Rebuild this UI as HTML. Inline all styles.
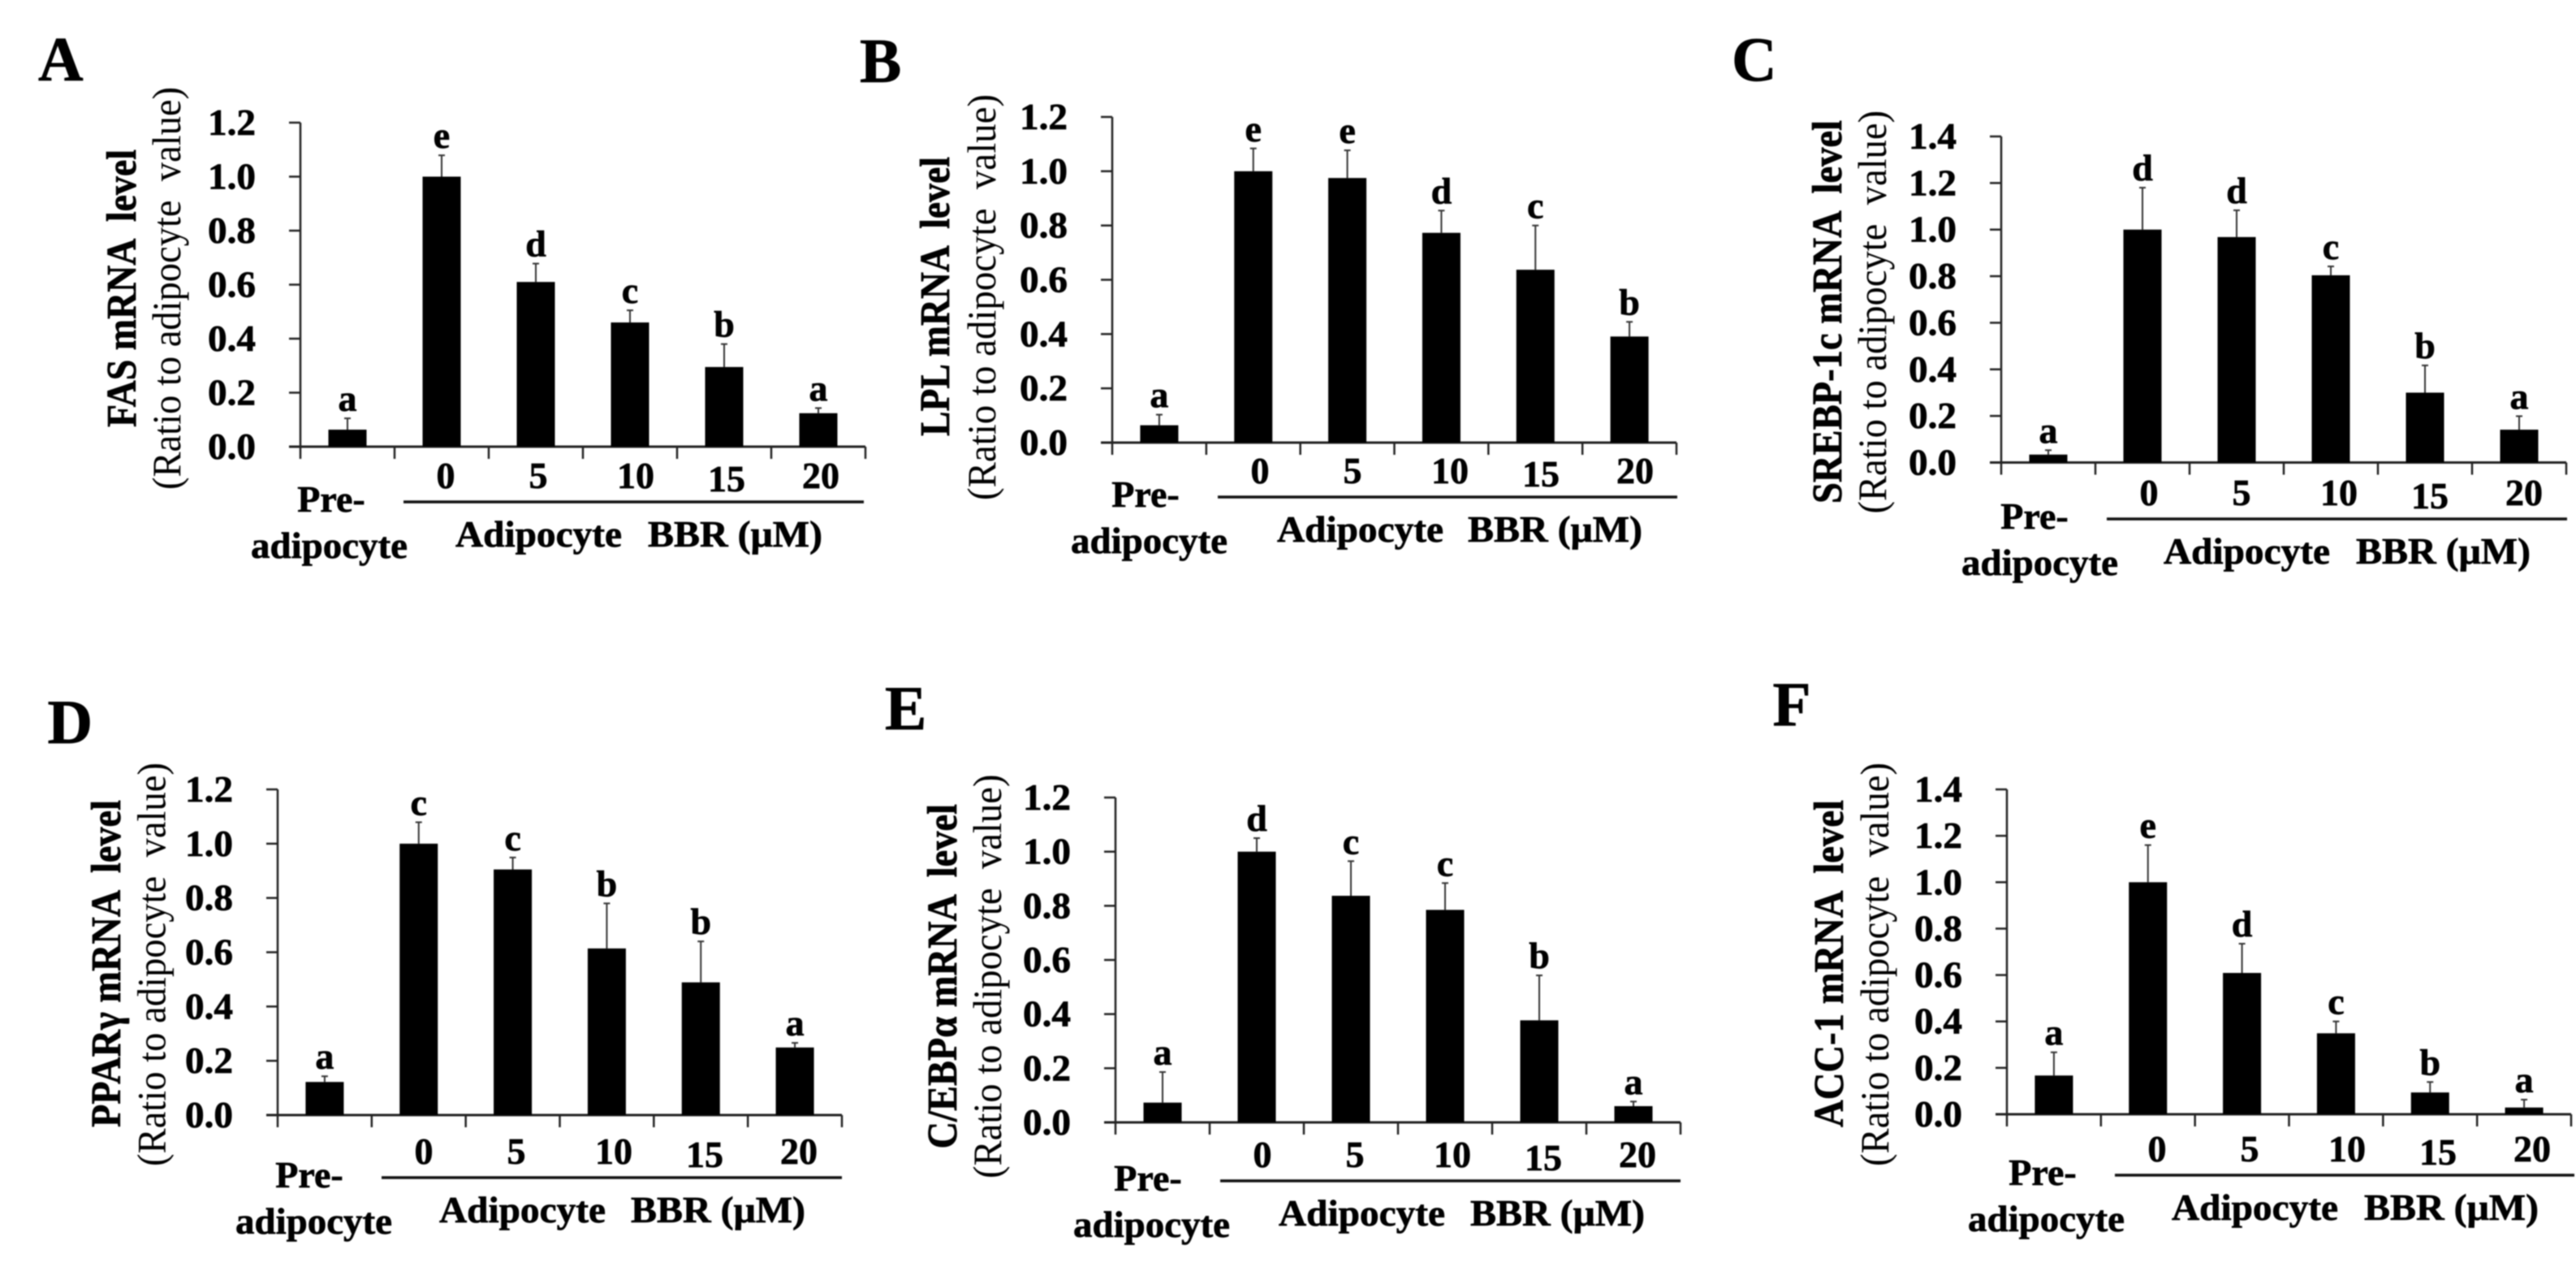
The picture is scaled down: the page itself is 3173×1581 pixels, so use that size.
<!DOCTYPE html>
<html lang="en">
<head>
<meta charset="utf-8">
<title>mRNA levels in pre-adipocytes and BBR-treated adipocytes</title>
<style>
html,body{margin:0;padding:0;background:#fff;width:3173px;height:1581px;overflow:hidden}
svg{display:block;filter:blur(0.7px)}
text{font-family:"Liberation Serif","DejaVu Serif",serif;fill:#000;white-space:pre}
text[font-weight="bold"]{stroke:#000;stroke-width:0.7px}
</style>
</head>
<body>
<svg id="figure" xmlns="http://www.w3.org/2000/svg" width="3173" height="1581" viewBox="0 0 3173 1581"></svg>
<script>
const categories = ['Pre-adipocyte', '0', '5', '10', '15', '20'];
const doseLabels = ['0', '5', '10', '15', '20'];
const ticksTo12 = ['0.0', '0.2', '0.4', '0.6', '0.8', '1.0', '1.2'];
const ticksTo14 = ['0.0', '0.2', '0.4', '0.6', '0.8', '1.0', '1.2', '1.4'];

const fasValues = [0.063, 1.0, 0.61, 0.46, 0.295, 0.124];
const fasErrors = [0.042, 0.079, 0.068, 0.045, 0.085, 0.019];
const fasLetters = ['a', 'e', 'd', 'c', 'b', 'a'];

const lplValues = [0.064, 1.0, 0.975, 0.773, 0.637, 0.391];
const lplErrors = [0.039, 0.084, 0.102, 0.082, 0.163, 0.054];
const lplLetters = ['a', 'e', 'e', 'd', 'c', 'b'];

const srebpValues = [0.034, 1.0, 0.968, 0.804, 0.30, 0.141];
const srebpErrors = [0.019, 0.18, 0.115, 0.038, 0.117, 0.058];
const srebpLetters = ['a', 'd', 'd', 'c', 'b', 'a'];

const pparValues = [0.122, 1.0, 0.905, 0.614, 0.489, 0.249];
const pparErrors = [0.021, 0.079, 0.044, 0.166, 0.151, 0.017];
const pparLetters = ['a', 'c', 'c', 'b', 'b', 'a'];

const cebpValues = [0.073, 1.0, 0.837, 0.785, 0.377, 0.06];
const cebpErrors = [0.113, 0.05, 0.128, 0.099, 0.166, 0.017];
const cebpLetters = ['a', 'd', 'c', 'c', 'b', 'a'];

const accValues = [0.167, 1.0, 0.609, 0.349, 0.094, 0.029];
const accErrors = [0.10, 0.16, 0.126, 0.051, 0.045, 0.034];
const accLetters = ['a', 'e', 'd', 'c', 'b', 'a'];

const panels = [
  {id:'a', letter:'A', lx:47, ly:99, ax:370, right:1066, top:151, base:550, ticks:ticksTo12, values:fasValues, errors:fasErrors, letters:fasLetters,
   title:'FAS mRNA  level', tx:167, tb:526, tt:184, rx:222, rb:603, rt:107, ulx:497, ulr:1064, uly:618, adx:-188, gx:64, bx:301},
  {id:'b', letter:'B', lx:1059, ly:101, ax:1370, right:2065, top:144, base:545, ticks:ticksTo12, values:lplValues, errors:lplErrors, letters:lplLetters,
   title:'LPL mRNA  level', tx:1169, tb:537, tt:193, rx:1226, rb:616, rt:116, ulx:1500, ulr:2066, uly:612, adx:-181, gx:73, bx:308},
  {id:'c', letter:'C', lx:2133, ly:99, ax:2465, right:3161, top:168, base:569.5, ticks:ticksTo14, values:srebpValues, errors:srebpErrors, letters:srebpLetters,
   title:'SREBP-1c mRNA  level', tx:2268, tb:620, tt:148, rx:2323, rb:632.5, rt:136, ulx:2595, ulr:3162, uly:639, adx:-179, gx:70, bx:307},
  {id:'d', letter:'D', lx:58.5, ly:915, ax:342, right:1037, top:972, base:1373, ticks:ticksTo12, values:pparValues, errors:pparErrors, letters:pparLetters,
   title:'PPARγ mRNA  level', tx:148, tb:1388, tt:985, rx:203.5, rb:1436, rt:939, ulx:470, ulr:1037, uly:1450, adx:-180, gx:71, bx:307},
  {id:'e', letter:'E', lx:1090, ly:898, ax:1374, right:2070, top:982, base:1382, ticks:ticksTo12, values:cebpValues, errors:cebpErrors, letters:cebpLetters,
   title:'C/EBPα mRNA  level', tx:1178, tb:1414.5, tt:990, rx:1233, rb:1451, rt:953.5, ulx:1503, ulr:2070, uly:1454, adx:-181, gx:72, bx:308},
  {id:'f', letter:'F', lx:2183.5, ly:893, ax:2472, right:3167, top:972, base:1372, ticks:ticksTo14, values:accValues, errors:accErrors, letters:accLetters,
   title:'ACC-1 mRNA  level', tx:2270, tb:1388, tt:985, rx:2326, rb:1436, rt:939, ulx:2605, ulr:3171, uly:1447, adx:-181, gx:70, bx:307}
];

const SVG_NS = 'http://www.w3.org/2000/svg';
const figure = document.getElementById('figure');

function make(tag, parent, attrs, content) {
  const node = document.createElementNS(SVG_NS, tag);
  for (const key in attrs) node.setAttribute(key, attrs[key]);
  if (content !== undefined) node.textContent = content;
  parent.appendChild(node);
  return node;
}

function drawPanel(p) {
  const g = make('g', figure, {});
  
  

  const yMax = parseFloat(p.ticks[p.ticks.length - 1]);
  const yScale = v => p.base - (p.base - p.top) * v / yMax;
  const step = (p.right - p.ax) / categories.length;
  const xScale = i => p.ax + step * (i + 0.5);

  const panelLetter = make('text', g, {x: p.lx, y: p.ly, 'font-size': 77, 'font-weight': 'bold'}, p.letter);
  
  

  const titleText = make('text', g, {
    transform: 'translate(' + p.tx + ',' + p.tb + ') rotate(-90)',
    'font-size': 52, 'font-weight': 'bold',
    textLength: p.tb - p.tt, lengthAdjust: 'spacingAndGlyphs'
  }, p.title);
  
  

  const ratioText = make('text', g, {
    transform: 'translate(' + p.rx + ',' + p.rb + ') rotate(-90)',
    'font-size': 50,
    textLength: p.rb - p.rt, lengthAdjust: 'spacingAndGlyphs'
  }, '(Ratio to adipocyte  value)');
  
  

  const yAxis = make('line', g, {x1: p.ax, x2: p.ax, y1: p.top, y2: p.base, stroke: '#222', 'stroke-width': 2.5});
  
  

  const xAxis = make('line', g, {x1: p.ax - 14, x2: p.right, y1: p.base, y2: p.base, stroke: '#222', 'stroke-width': 3});
  
  

  p.ticks.forEach(label => {
    const ty = yScale(parseFloat(label));
    const tick = make('line', g, {x1: p.ax - 14, x2: p.ax, y1: ty, y2: ty, stroke: '#222', 'stroke-width': 2.5});
    
    
    const tickLabel = make('text', g, {x: p.ax - 114, y: ty + 15, 'font-size': 45, 'font-weight': 'bold', textLength: 59, lengthAdjust: 'spacingAndGlyphs'}, label);
    
    
  });

  for (let i = 0; i <= categories.length; i++) {
    const tx = p.ax + step * i;
    const tick = make('line', g, {x1: tx, x2: tx, y1: p.base, y2: p.base + 15, stroke: '#222', 'stroke-width': 2.5});
    
    
  }

  categories.forEach((cat, i) => {
    const cx = xScale(i);
    const topY = yScale(p.values[i]);
    const errY = yScale(p.values[i] + p.errors[i]);

    const errLine = make('line', g, {x1: cx, x2: cx, y1: errY, y2: topY, stroke: '#333', 'stroke-width': 2});
    
    

    const errCap = make('line', g, {x1: cx - 4, x2: cx + 4, y1: errY, y2: errY, stroke: '#333', 'stroke-width': 2});
    
    

    const bar = make('rect', g, {x: cx - 23.5, y: topY, width: 47, height: p.base - topY, fill: '#000'});
    
    

    const sig = make('text', g, {x: cx, y: errY - 9, 'font-size': 46, 'font-weight': 'bold', 'text-anchor': 'middle'}, p.letters[i]);
    
    
  });

  const doseOffsets = [52, 166, 286, 398, 514];
  doseLabels.forEach((label, i) => {
    const dy = label === '15' ? -13 : -17;
    const doseLabel = make('text', g, {x: p.ulx + doseOffsets[i], y: p.uly + dy, 'font-size': 46, 'font-weight': 'bold', 'text-anchor': 'middle'}, label);
    
    
  });

  const underline = make('line', g, {x1: p.ulx, x2: p.ulr, y1: p.uly, y2: p.uly, stroke: '#111', 'stroke-width': 3.5});
  
  

  const pre = make('text', g, {x: p.ulx - 89, y: p.uly + 12, 'font-size': 46, 'font-weight': 'bold', 'text-anchor': 'middle'}, 'Pre-');
  
  

  const adipo = make('text', g, {x: p.ulx + p.adx, y: p.uly + 69, 'font-size': 46, 'font-weight': 'bold', textLength: 193, lengthAdjust: 'spacingAndGlyphs'}, 'adipocyte');
  
  

  const group = make('text', g, {x: p.ulx + p.gx, y: p.uly + 55, 'font-size': 46, 'font-weight': 'bold', textLength: 205, lengthAdjust: 'spacingAndGlyphs'}, 'Adipocyte');
  
  

  const dose = make('text', g, {x: p.ulx + p.bx, y: p.uly + 55, 'font-size': 46, 'font-weight': 'bold', textLength: 215, lengthAdjust: 'spacingAndGlyphs'}, 'BBR (μM)');
  
  
}

panels.forEach(drawPanel);
</script>
</body>
</html>
